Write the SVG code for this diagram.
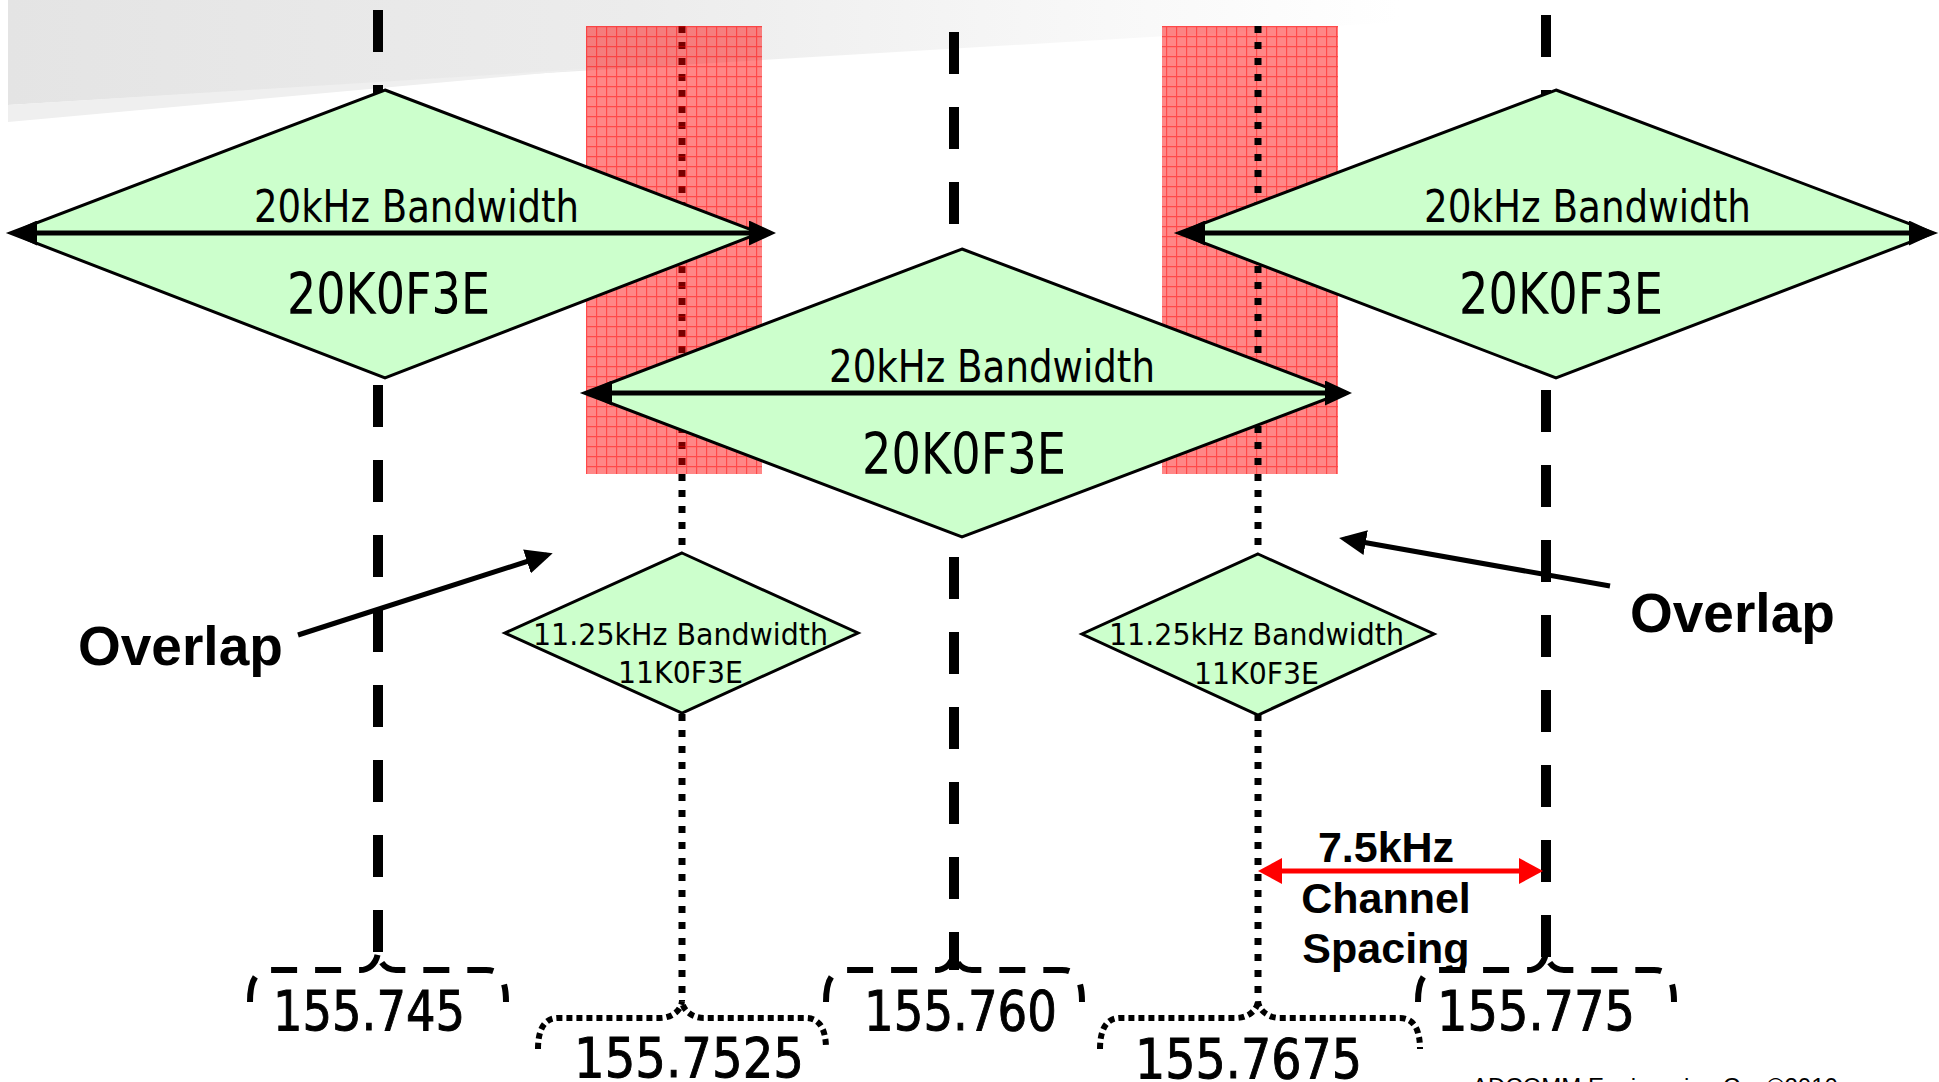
<svg xmlns="http://www.w3.org/2000/svg" width="1939" height="1082" viewBox="0 0 1939 1082">
<style>
.dash{stroke:#000;stroke-width:10;stroke-dasharray:42 33;fill:none}
.dot{stroke:#000;stroke-width:7;stroke-dasharray:7 9;fill:none}
.dia{fill:#ccffcc;stroke:#000;stroke-width:3;stroke-linejoin:miter}
.arr{stroke:#000;stroke-width:5;fill:none}
.bdash{stroke:#000;stroke-width:6;stroke-dasharray:26 18;fill:none}
.bdot{stroke:#000;stroke-width:6;stroke-dasharray:6 4;fill:none}
.sans{font-family:"DejaVu Sans","Liberation Sans",sans-serif;fill:#000}
.bw{font-size:45px}
.code{font-size:57px}
.sm{font-size:30px}
.num{font-size:56px;stroke:#000;stroke-width:1}
.bold{font-family:"Liberation Sans",Arial,sans-serif;font-weight:bold;fill:#000}
</style>
<defs>
<linearGradient id="gbg" gradientUnits="userSpaceOnUse" x1="8" y1="0" x2="1400" y2="0">
<stop offset="0" stop-color="#e4e4e4"/>
<stop offset="0.45" stop-color="#ececec"/>
<stop offset="0.7" stop-color="#f5f5f5"/>
<stop offset="1" stop-color="#ffffff"/>
</linearGradient>
<pattern id="grid" patternUnits="userSpaceOnUse" x="586" y="26" width="10" height="10">
<rect width="10" height="10" fill="#ff0000" fill-opacity="0.47"/>
<path d="M0,0.6 H10 M0.6,0 V10" stroke="#ff0000" stroke-opacity="0.45" stroke-width="1.2"/>
</pattern>
<marker id="ah" markerUnits="userSpaceOnUse" markerWidth="27" markerHeight="25" viewBox="0 0 27 25" refX="21" refY="12.5" orient="auto-start-reverse">
<path d="M0,0 L27,12.5 L0,25 z" fill="#000"/>
</marker>
<marker id="ahr" markerUnits="userSpaceOnUse" markerWidth="24" markerHeight="26" viewBox="0 0 24 26" refX="18" refY="13" orient="auto-start-reverse">
<path d="M0,0 L24,13 L0,26 z" fill="#ff0000"/>
</marker>
</defs>
<rect width="1939" height="1082" fill="#ffffff"/>
<g id="background">
<polygon points="8,0 1400,0 1400,22 8,105" fill="url(#gbg)"/>
<polygon points="8,105 8,122 600,68" fill="#efefef"/>
</g>
<g id="connectors">
<line id="line-155.7525" class="dot" x1="682" y1="26" x2="682" y2="1000"/>
<line id="line-155.745" class="dash" x1="378" y1="10" x2="378" y2="952"/>
<line id="line-155.760" class="dash" x1="954" y1="32" x2="954" y2="970"/>
<line id="line-155.775" class="dash" x1="1546" y1="15" x2="1546" y2="957"/>
</g>
<g id="overlap-zones">
<rect x="586" y="26" width="176" height="448" fill="url(#grid)"/>
<rect x="1162" y="26" width="176" height="448" fill="url(#grid)"/>
</g>
<g id="connectors-2">
<line id="line-155.7675" class="dot" x1="1258" y1="26" x2="1258" y2="995"/>
</g>
<g id="node-A">
<polygon class="dia" points="385,90 760,233 385,378 10,233"/>
<line class="arr" x1="16" y1="233" x2="770" y2="233" marker-start="url(#ah)" marker-end="url(#ah)"/>
<text class="sans bw" x="254" y="222" textLength="325" lengthAdjust="spacingAndGlyphs">20kHz Bandwidth</text>
<text class="sans code" x="287" y="314" textLength="203" lengthAdjust="spacingAndGlyphs">20K0F3E</text>
</g>
<g id="node-E">
<polygon class="dia" points="1556,90 1934,233 1556,378 1178,233"/>
<line class="arr" x1="1184" y1="233" x2="1930" y2="233" marker-start="url(#ah)" marker-end="url(#ah)"/>
<text class="sans bw" x="1424" y="222" textLength="327" lengthAdjust="spacingAndGlyphs">20kHz Bandwidth</text>
<text class="sans code" x="1459" y="314" textLength="204" lengthAdjust="spacingAndGlyphs">20K0F3E</text>
</g>
<g id="node-C">
<polygon class="dia" points="962,249 1342,393 962,537 584,393"/>
<line class="arr" x1="591" y1="393" x2="1346" y2="393" marker-start="url(#ah)" marker-end="url(#ah)"/>
<text class="sans bw" x="829" y="382" textLength="326" lengthAdjust="spacingAndGlyphs">20kHz Bandwidth</text>
<text class="sans code" x="862" y="474" textLength="204" lengthAdjust="spacingAndGlyphs">20K0F3E</text>
</g>
<g id="node-B">
<polygon class="dia" points="682,553 858,633 682,713 505,633"/>
<text class="sans sm" x="533" y="645" textLength="295" lengthAdjust="spacingAndGlyphs">11.25kHz Bandwidth</text>
<text class="sans sm" x="618" y="683" textLength="125" lengthAdjust="spacingAndGlyphs">11K0F3E</text>
</g>
<g id="node-D">
<polygon class="dia" points="1258,554 1434,634 1258,715 1082,634"/>
<text class="sans sm" x="1109" y="645" textLength="295" lengthAdjust="spacingAndGlyphs">11.25kHz Bandwidth</text>
<text class="sans sm" x="1194" y="684" textLength="125" lengthAdjust="spacingAndGlyphs">11K0F3E</text>
</g>
<g id="connectors-3">
<line class="arr" x1="298" y1="635" x2="547" y2="555" marker-end="url(#ah)"/>
<line class="arr" x1="1610" y1="586" x2="1345" y2="539" marker-end="url(#ah)"/>
<line stroke="#ff0000" stroke-width="5" x1="1264" y1="871" x2="1537" y2="871" marker-start="url(#ahr)" marker-end="url(#ahr)"/>
<path class="bdash" d="M250,1002 C250,980 256,970 270,970 L360,970 C370,970 378,962 378,950 C378,962 386,970 396,970 L486,970 C500,970 506,980 506,1002"/>
<path class="bdash" d="M826,1002 C826,980 832,970 846,970 L936,970 C946,970 954,962 954,950 C954,962 962,970 972,970 L1062,970 C1076,970 1082,980 1082,1002"/>
<path class="bdash" d="M1418,1002 C1418,980 1424,970 1438,970 L1528,970 C1538,970 1546,962 1546,950 C1546,962 1554,970 1564,970 L1654,970 C1668,970 1674,980 1674,1002"/>
<path class="bdot" d="M538,1049 C538,1030 544,1018 558,1018 L660,1018 C672,1018 682,1010 682,1000 C682,1010 692,1018 704,1018 L806,1018 C820,1018 826,1030 826,1049"/>
<path class="bdot" d="M1100,1049 C1100,1030 1106,1018 1120,1018 L1236,1018 C1248,1018 1258,1010 1258,1000 C1258,1010 1268,1018 1280,1018 L1400,1018 C1414,1018 1420,1030 1420,1049"/>
</g>
<g id="labels">
<text class="bold" x="78" y="665" font-size="55">Overlap</text>
<text class="bold" x="1630" y="632" font-size="55">Overlap</text>
<text class="bold" x="1386" y="862" font-size="43" text-anchor="middle">7.5kHz</text>
<text class="bold" x="1386" y="913" font-size="43" text-anchor="middle">Channel</text>
<text class="bold" x="1386" y="963" font-size="43" text-anchor="middle">Spacing</text>
<text class="sans num" x="273" y="1030" textLength="192" lengthAdjust="spacingAndGlyphs">155.745</text>
<text class="sans num" x="574" y="1077" textLength="230" lengthAdjust="spacingAndGlyphs">155.7525</text>
<text class="sans num" x="864" y="1030" textLength="193" lengthAdjust="spacingAndGlyphs">155.760</text>
<text class="sans num" x="1135" y="1078" textLength="227" lengthAdjust="spacingAndGlyphs">155.7675</text>
<text class="sans num" x="1437" y="1030" textLength="198" lengthAdjust="spacingAndGlyphs">155.775</text>
<text x="1472" y="1095" font-family="Liberation Sans,Arial,sans-serif" font-size="24" fill="#000">ADCOMM Engineering Co. ©2010</text>
</g>
</svg>
